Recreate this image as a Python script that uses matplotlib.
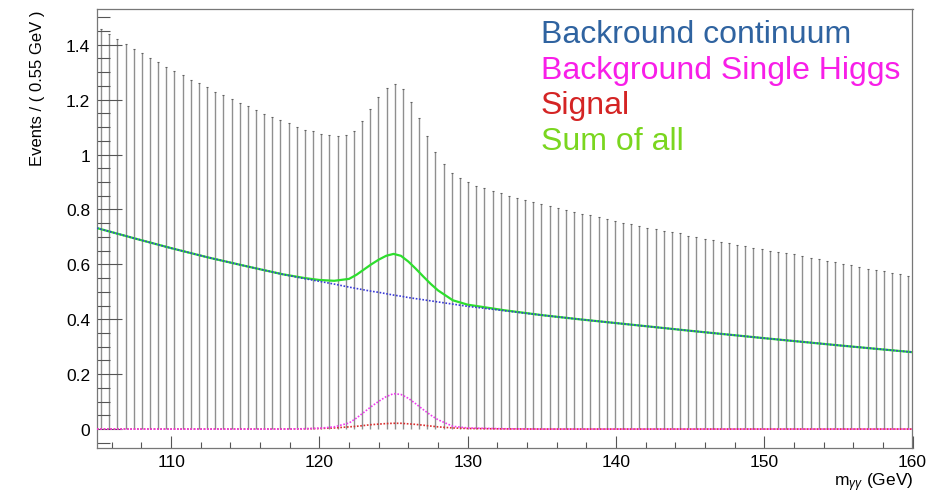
import matplotlib
matplotlib.use("Agg")
import matplotlib.pyplot as plt
from matplotlib.ticker import MultipleLocator, FuncFormatter
import numpy as np

plt.rcParams['font.family'] = ['Liberation Sans', 'DejaVu Sans']
plt.rcParams['mathtext.fontset'] = 'custom'
plt.rcParams['mathtext.rm'] = 'Liberation Sans'
plt.rcParams['mathtext.it'] = 'Liberation Sans:italic'

# binning of the diphoton mass histogram
m_lo, m_hi, n_bins = 105.0, 160.0, 100

# upper end of the error bar in each bin
err_top = [
    1.457, 1.439, 1.421, 1.404, 1.385, 1.370, 1.352, 1.337, 1.320, 1.305,
    1.290, 1.273, 1.259, 1.245, 1.229, 1.215, 1.202, 1.188, 1.175, 1.161,
    1.148, 1.136, 1.125, 1.113, 1.101, 1.091, 1.084, 1.075, 1.070, 1.067,
    1.072, 1.087, 1.121, 1.164, 1.208, 1.244, 1.256, 1.239, 1.193, 1.132,
    1.068, 1.010, 0.964, 0.933, 0.915, 0.901, 0.887, 0.878, 0.867, 0.858,
    0.850, 0.842, 0.835, 0.827, 0.818, 0.811, 0.805, 0.799, 0.792, 0.784,
    0.778, 0.771, 0.765, 0.759, 0.752, 0.747, 0.741, 0.733, 0.730, 0.723,
    0.719, 0.713, 0.705, 0.701, 0.693, 0.687, 0.682, 0.676, 0.672, 0.667,
    0.661, 0.655, 0.650, 0.645, 0.640, 0.636, 0.629, 0.623, 0.618, 0.613,
    0.607, 0.603, 0.596, 0.590, 0.584, 0.579, 0.575, 0.570, 0.564, 0.557,
]

# model components
m_curve = [105, 107.5, 110, 112.5, 115, 117.5, 119, 120, 121, 122, 122.5, 123,
           123.5, 124, 124.5, 125, 125.5, 126, 126.5, 127, 127.5, 128, 129, 130,
           132.5, 135, 137.5, 140, 145, 150, 155, 160]
bkg_cont = [0.732, 0.695, 0.659, 0.625, 0.594, 0.564, 0.548, 0.538, 0.528, 0.517,
            0.512, 0.507, 0.502, 0.498, 0.493, 0.488, 0.484, 0.479, 0.475, 0.471,
            0.467, 0.463, 0.455, 0.447, 0.431, 0.415, 0.400, 0.386, 0.358, 0.331,
            0.305, 0.280]
bkg_higgs = [0, 0, 0, 0, 0, 0, 0.001, 0.003, 0.008, 0.022, 0.040, 0.061, 0.082,
             0.101, 0.118, 0.129, 0.126, 0.112, 0.092, 0.071, 0.051, 0.034, 0.010,
             0.004, 0.001, 0, 0, 0, 0, 0, 0, 0]
signal = [0, 0, 0, 0, 0, 0, 0.001, 0.002, 0.004, 0.008, 0.010, 0.013, 0.016,
          0.018, 0.020, 0.021, 0.021, 0.019, 0.017, 0.014, 0.011, 0.008, 0.004,
          0.002, 0.0005, 0, 0, 0, 0, 0, 0, 0]

legend_labels = ["Backround continuum", "Background Single Higgs", "Signal", "Sum of all"]
legend_colors = ["#2f63a0", "#f81ee8", "#d42424", "#7ad61f"]

edges = np.linspace(m_lo, m_hi, n_bins + 1)
centers = 0.5 * (edges[:-1] + edges[1:])
total = np.array(bkg_cont) + np.array(bkg_higgs) + np.array(signal)

fig = plt.figure(figsize=(9.53, 5.02), dpi=100)
ax = fig.add_axes([97 / 953, 1 - 449 / 502, 815.5 / 953, 439 / 502])

ax.vlines(centers, 0, err_top, color="#8f8f8f", lw=1.0, zorder=1)
ax.plot(centers, err_top, ls="none", marker="_", ms=1.5, mew=0.8, color="#606060", zorder=1)

ax.plot(m_curve, total, color="#2ede2e", lw=1.6, zorder=3)
ax.plot(m_curve, bkg_cont, color="#3a3ad6", lw=1.2, ls=(0, (1, 1)), zorder=4)
ax.plot(m_curve, signal, color="#d83030", lw=1.2, ls=(0, (1, 1)), zorder=4)
ax.plot(m_curve, bkg_higgs, color="#ee3cee", lw=1.2, ls=(0, (1, 1)), zorder=5)

ax.set_xlim(m_lo, m_hi)
ax.set_ylim(-0.069, 1.530)

ax.xaxis.set_major_locator(MultipleLocator(10))
ax.xaxis.set_minor_locator(MultipleLocator(2))
ax.yaxis.set_major_locator(MultipleLocator(0.2))
ax.yaxis.set_minor_locator(MultipleLocator(0.05))
ax.yaxis.set_major_formatter(FuncFormatter(lambda v, p: f"{round(v, 2):g}"))

ax.tick_params(axis="both", which="both", direction="in", labelsize=12.5,
               color="#555555", width=0.8, top=False, right=False)
ax.tick_params(axis="y", which="major", length=18, pad=5)
ax.tick_params(axis="y", which="minor", length=9)
ax.tick_params(axis="x", which="major", length=9, pad=4)
ax.tick_params(axis="x", which="minor", length=4.5)
for s in ax.spines.values():
    s.set_color("#777777")
    s.set_linewidth(0.9)

fig.text(38 / 953, 1 - 10 / 502, "Events / ( 0.55 GeV )", rotation=90,
         ha="center", va="top", fontsize=12)
fig.text(913 / 953, 1 - 486 / 502, r"m$_{\gamma\gamma}$ (GeV)",
         ha="right", va="baseline", fontsize=12.5)

for i, (lab, col) in enumerate(zip(legend_labels, legend_colors)):
    fig.text(541 / 953, 1 - (42.7 + 35.8 * i) / 502, lab, color=col,
             fontsize=23, ha="left", va="baseline")

fig.savefig("out.png", dpi=100)
